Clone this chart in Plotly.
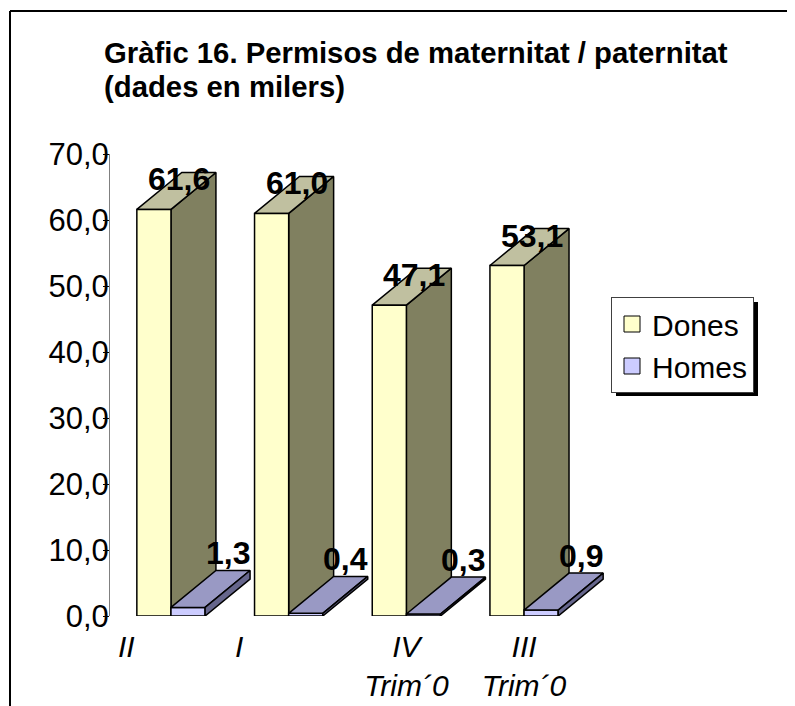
import plotly.graph_objects as go

# ---------------- data ----------------
categories = ["II", "I", "IV<br>Trim´0", "III<br>Trim´0"]
dones = [61.6, 61.0, 47.1, 53.1]
homes = [1.3, 0.4, 0.3, 0.9]
series_names = ["Dones", "Homes"]
y_ticks = [0, 10, 20, 30, 40, 50, 60, 70]
title_lines = ["Gràfic 16. Permisos de maternitat / paternitat", "(dades en milers)"]

# ---------------- style / geometry ----------------
OFF = 8                                       # page body margin
W, H = 795 - OFF, 706 - OFF
PL, PR, PT, PB = 110, 630, 154, 616          # plot area in screen pixels
XR = [-0.518, 3.9]
YR = [0, 70]
BAR_W = 0.29
DX, DY = 0.382, 5.6                           # 3D depth offset (data units)
label_offsets = [-0.38, -0.42, 0.0, 0.0]      # category label shift
FONT = "Liberation Sans, Arial, sans-serif"

colors = {
    "Dones": {"front": "#FFFFCC", "top": "#C0C0A0", "side": "#808060"},
    "Homes": {"front": "#CCCCFF", "top": "#9999C4", "side": "#66668C"},
}


def px_x(p):
    return (p - PL) / (PR - PL)


def px_y(p):
    return (PB - p) / (PB - PT)


def faces(vals, start_off):
    fx, fy, tx, ty, sx, sy = [], [], [], [], [], []
    for i, v in enumerate(vals):
        x0 = i + start_off
        x1 = x0 + BAR_W
        fx += [x0, x1, x1, x0, x0, None]
        fy += [0, 0, v, v, 0, None]
        tx += [x0, x1, x1 + DX, x0 + DX, x0, None]
        ty += [v, v, v + DY, v + DY, v, None]
        sx += [x1, x1 + DX, x1 + DX, x1, x1, None]
        sy += [0, DY, v + DY, v, 0, None]
    return (fx, fy), (tx, ty), (sx, sy)


def poly(xy, color):
    return go.Scatter(
        x=xy[0], y=xy[1], mode="lines", fill="toself", fillcolor=color,
        line=dict(color="black", width=1.5), showlegend=False, hoverinfo="skip",
    )


fig = go.Figure()

d_front, d_top, d_side = faces(dones, -BAR_W)
h_front, h_top, h_side = faces(homes, 0.0)

fig.add_trace(poly(d_side, colors["Dones"]["side"]))
fig.add_trace(poly(d_top, colors["Dones"]["top"]))
fig.add_trace(poly(d_front, colors["Dones"]["front"]))
fig.add_trace(poly(h_front, colors["Homes"]["front"]))
fig.add_trace(poly(h_top, colors["Homes"]["top"]))
fig.add_trace(poly(h_side, colors["Homes"]["side"]))

# legend entries
for name in series_names:
    fig.add_trace(go.Scatter(
        x=[None], y=[None], mode="markers", name=name,
        marker=dict(symbol="square", size=16, color=colors[name]["front"],
                    line=dict(color="black", width=1)),
    ))


def fmt(v):
    return f"{v:.1f}".replace(".", ",")


annotations = []
for i, v in enumerate(dones):
    annotations.append(dict(
        x=i - BAR_W / 2, y=v, xref="x", yref="y", text=fmt(v), showarrow=False,
        xshift=25, yshift=30, font=dict(family=FONT, size=32, color="black", weight="bold"),
    ))
for i, v in enumerate(homes):
    annotations.append(dict(
        x=i + BAR_W / 2, y=v, xref="x", yref="y", text=fmt(v), showarrow=False,
        xshift=40, yshift=54, font=dict(family=FONT, size=32, color="black", weight="bold"),
    ))

annotations.append(dict(
    x=px_x(102), y=px_y(53), xref="paper", yref="paper", xanchor="left", yanchor="middle",
    text=title_lines[0], showarrow=False,
    font=dict(family=FONT, size=29.3, color="black", weight="bold"),
))
annotations.append(dict(
    x=px_x(102), y=px_y(87), xref="paper", yref="paper", xanchor="left", yanchor="middle",
    text=title_lines[1], showarrow=False,
    font=dict(family=FONT, size=29.3, color="black", weight="bold"),
))

shapes = [
    # legend shadow
    dict(type="rect", xref="paper", yref="paper", x0=px_x(616), x1=px_x(758),
         y0=px_y(396), y1=px_y(302), fillcolor="black", line=dict(width=0), layer="below"),
    # outer frame (left & top)
    dict(type="line", xref="paper", yref="paper", x0=px_x(10), x1=px_x(10),
         y0=px_y(11), y1=px_y(720), line=dict(color="black", width=2)),
    dict(type="line", xref="paper", yref="paper", x0=px_x(10), x1=px_x(810),
         y0=px_y(11), y1=px_y(11), line=dict(color="black", width=2)),
]

fig.update_layout(
    width=W, height=H,
    margin=dict(l=PL - OFF, r=W - (PR - OFF), t=PT - OFF, b=H - (PB - OFF), pad=0,
                autoexpand=False),
    paper_bgcolor="white", plot_bgcolor="white",
    separators=",.",
    font=dict(family=FONT, color="black"),
    annotations=annotations,
    shapes=shapes,
    legend=dict(
        x=px_x(611), y=px_y(297), xanchor="left", yanchor="top",
        bgcolor="white", bordercolor="#404040", borderwidth=1,
        font=dict(family=FONT, size=30, color="black"),
        tracegroupgap=0,
    ),
    showlegend=True,
)

fig.update_xaxes(
    range=XR, showgrid=False, zeroline=False, showline=False, automargin=False,
    tickmode="array", tickvals=[i + o for i, o in enumerate(label_offsets)],
    ticktext=categories, ticks="", ticklabelstandoff=10,
    tickfont=dict(family=FONT, size=30, color="black", style="italic"),
)
fig.update_yaxes(
    range=YR, showgrid=False, zeroline=False, showline=True, linecolor="#808080", linewidth=1,
    automargin=False,
    tickmode="array", tickvals=y_ticks, tickformat=".1f",
    ticks="outside", ticklen=6, tickcolor="black", ticklabelstandoff=-12,
    tickfont=dict(family=FONT, size=31, color="black"),
)

fig.write_html("out.html")
